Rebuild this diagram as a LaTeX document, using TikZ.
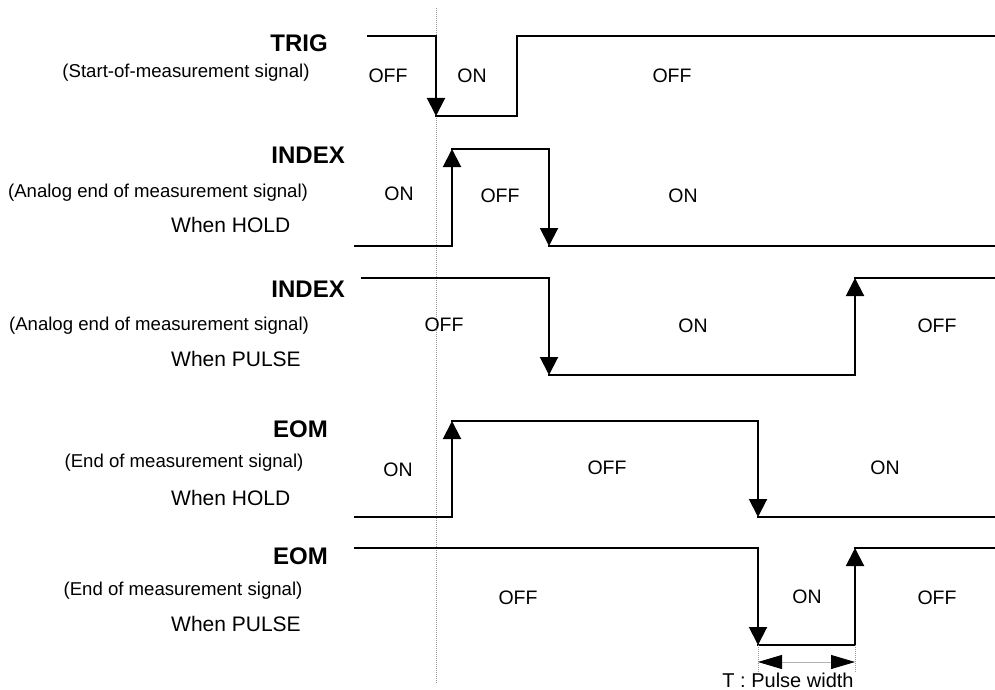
\documentclass[tikz,border=0pt]{standalone}
\usepackage{fontspec}
\setmainfont{Liberation Sans}
\usetikzlibrary{arrows.meta}
\begin{document}
\begin{tikzpicture}[x=1pt,y=-1pt,
 wave/.style={line width=2pt, line join=miter, line cap=rect},
 edgearrow/.style={-{Triangle[length=18pt,width=18pt]}},
 sig/.style={font=\fontsize{24}{26}\selectfont\bfseries, anchor=east, inner sep=0},
 sub/.style={font=\fontsize{18.6}{20}\selectfont, inner sep=0},
 mode/.style={font=\fontsize{21}{23}\selectfont, anchor=west, inner sep=0},
 state/.style={font=\fontsize{19.5}{21}\selectfont, inner sep=0},
 refline/.style={gray!80, line width=0.9pt, dash pattern=on 1pt off 1pt},
 dimline/.style={gray!60, line width=0.8pt,
   {Triangle[length=24pt,width=14pt,color=black]}-{Triangle[length=24pt,width=14pt,color=black]}},
]
\useasboundingbox (0,0) rectangle (995,690);

% reference time line
\coordinate (rtop) at (436,8);
\coordinate (rbot) at (436,683);
\draw[refline] (rtop) -- (rbot);

% ---------- labels ----------
\node[sig] (trig) at (328,43) {TRIG};
\node[sub] (trigs) at (186,73) {(Start-of-measurement signal)};

\node[sig] (idx1) at (345,155) {INDEX};
\node[sub] (idx1s) at (158,193) {(Analog end of measurement signal)};
\node[mode] (idx1m) at (171,225) {When HOLD};

\node[sig] (idx2) at (345,289) {INDEX};
\node[sub] (idx2s) at (159,326) {(Analog end of measurement signal)};
\node[mode] (idx2m) at (171,359) {When PULSE};

\node[sig] (eom1) at (328,429) {EOM};
\node[sub] (eom1s) at (184,463) {(End of measurement signal)};
\node[mode] (eom1m) at (171,498) {When HOLD};

\node[sig] (eom2) at (328,556) {EOM};
\node[sub] (eom2s) at (183,591) {(End of measurement signal)};
\node[mode] (eom2m) at (171,624) {When PULSE};

% ---------- TRIG ----------
\coordinate (t0) at (368,36);
\coordinate (t1) at (436,36);
\coordinate (t2) at (436,116);
\coordinate (t3) at (517,116);
\coordinate (t4) at (517,36);
\coordinate (t5) at (995,36);
\draw[wave] (t0) -- (t1);
\draw[wave,edgearrow] (t1) -- (t2);
\draw[wave] (t2) -- (t3) -- (t4) -- (t5);
\node[state] (ts1) at (388,76) {OFF};
\node[state] (ts2) at (472,76) {ON};
\node[state] (ts3) at (672,76) {OFF};

% ---------- INDEX (HOLD) ----------
\coordinate (a0) at (355,246);
\coordinate (a1) at (452,246);
\coordinate (a2) at (452,149);
\coordinate (a3) at (549,149);
\coordinate (a4) at (549,246);
\coordinate (a5) at (995,246);
\draw[wave] (a0) -- (a1);
\draw[wave,edgearrow] (a1) -- (a2);
\draw[wave] (a2) -- (a3);
\draw[wave,edgearrow] (a3) -- (a4);
\draw[wave] (a4) -- (a5);
\node[state] (as1) at (399,194) {ON};
\node[state] (as2) at (500,196) {OFF};
\node[state] (as3) at (683,196) {ON};

% ---------- INDEX (PULSE) ----------
\coordinate (b0) at (362,278);
\coordinate (b1) at (549,278);
\coordinate (b2) at (549,375);
\coordinate (b3) at (855,375);
\coordinate (b4) at (855,278);
\coordinate (b5) at (995,278);
\draw[wave] (b0) -- (b1);
\draw[wave,edgearrow] (b1) -- (b2);
\draw[wave] (b2) -- (b3);
\draw[wave,edgearrow] (b3) -- (b4);
\draw[wave] (b4) -- (b5);
\node[state] (bs1) at (444,325) {OFF};
\node[state] (bs2) at (693,326) {ON};
\node[state] (bs3) at (937,326) {OFF};

% ---------- EOM (HOLD) ----------
\coordinate (c0) at (355,517);
\coordinate (c1) at (452,517);
\coordinate (c2) at (452,421);
\coordinate (c3) at (758,421);
\coordinate (c4) at (758,517);
\coordinate (c5) at (995,517);
\draw[wave] (c0) -- (c1);
\draw[wave,edgearrow] (c1) -- (c2);
\draw[wave] (c2) -- (c3);
\draw[wave,edgearrow] (c3) -- (c4);
\draw[wave] (c4) -- (c5);
\node[state] (cs1) at (398,470) {ON};
\node[state] (cs2) at (607,468) {OFF};
\node[state] (cs3) at (885,468) {ON};

% ---------- EOM (PULSE) ----------
\coordinate (d0) at (355,548);
\coordinate (d1) at (758,548);
\coordinate (d2) at (758,645);
\coordinate (d3) at (855,645);
\coordinate (d4) at (855,548);
\coordinate (d5) at (995,548);
\draw[wave] (d0) -- (d1);
\draw[wave,edgearrow] (d1) -- (d2);
\draw[wave] (d2) -- (d3);
\draw[wave,edgearrow] (d3) -- (d4);
\draw[wave] (d4) -- (d5);
\node[state] (ds1) at (518,598) {OFF};
\node[state] (ds2) at (807,597) {ON};
\node[state] (ds3) at (937,598) {OFF};

% ---------- pulse width ----------
\coordinate (e1) at (758,672);
\coordinate (e2) at (855,672);
\coordinate (w1) at (758,662);
\coordinate (w2) at (855,662);
\draw[refline] (d2) -- (e1);
\draw[refline] (d3) -- (e2);
\draw[dimline] (w1) -- (w2);
\node[font=\fontsize{20}{22}\selectfont, inner sep=0, anchor=base] (tw) at (788,687) {T : Pulse width};

\end{tikzpicture}
\end{document}
